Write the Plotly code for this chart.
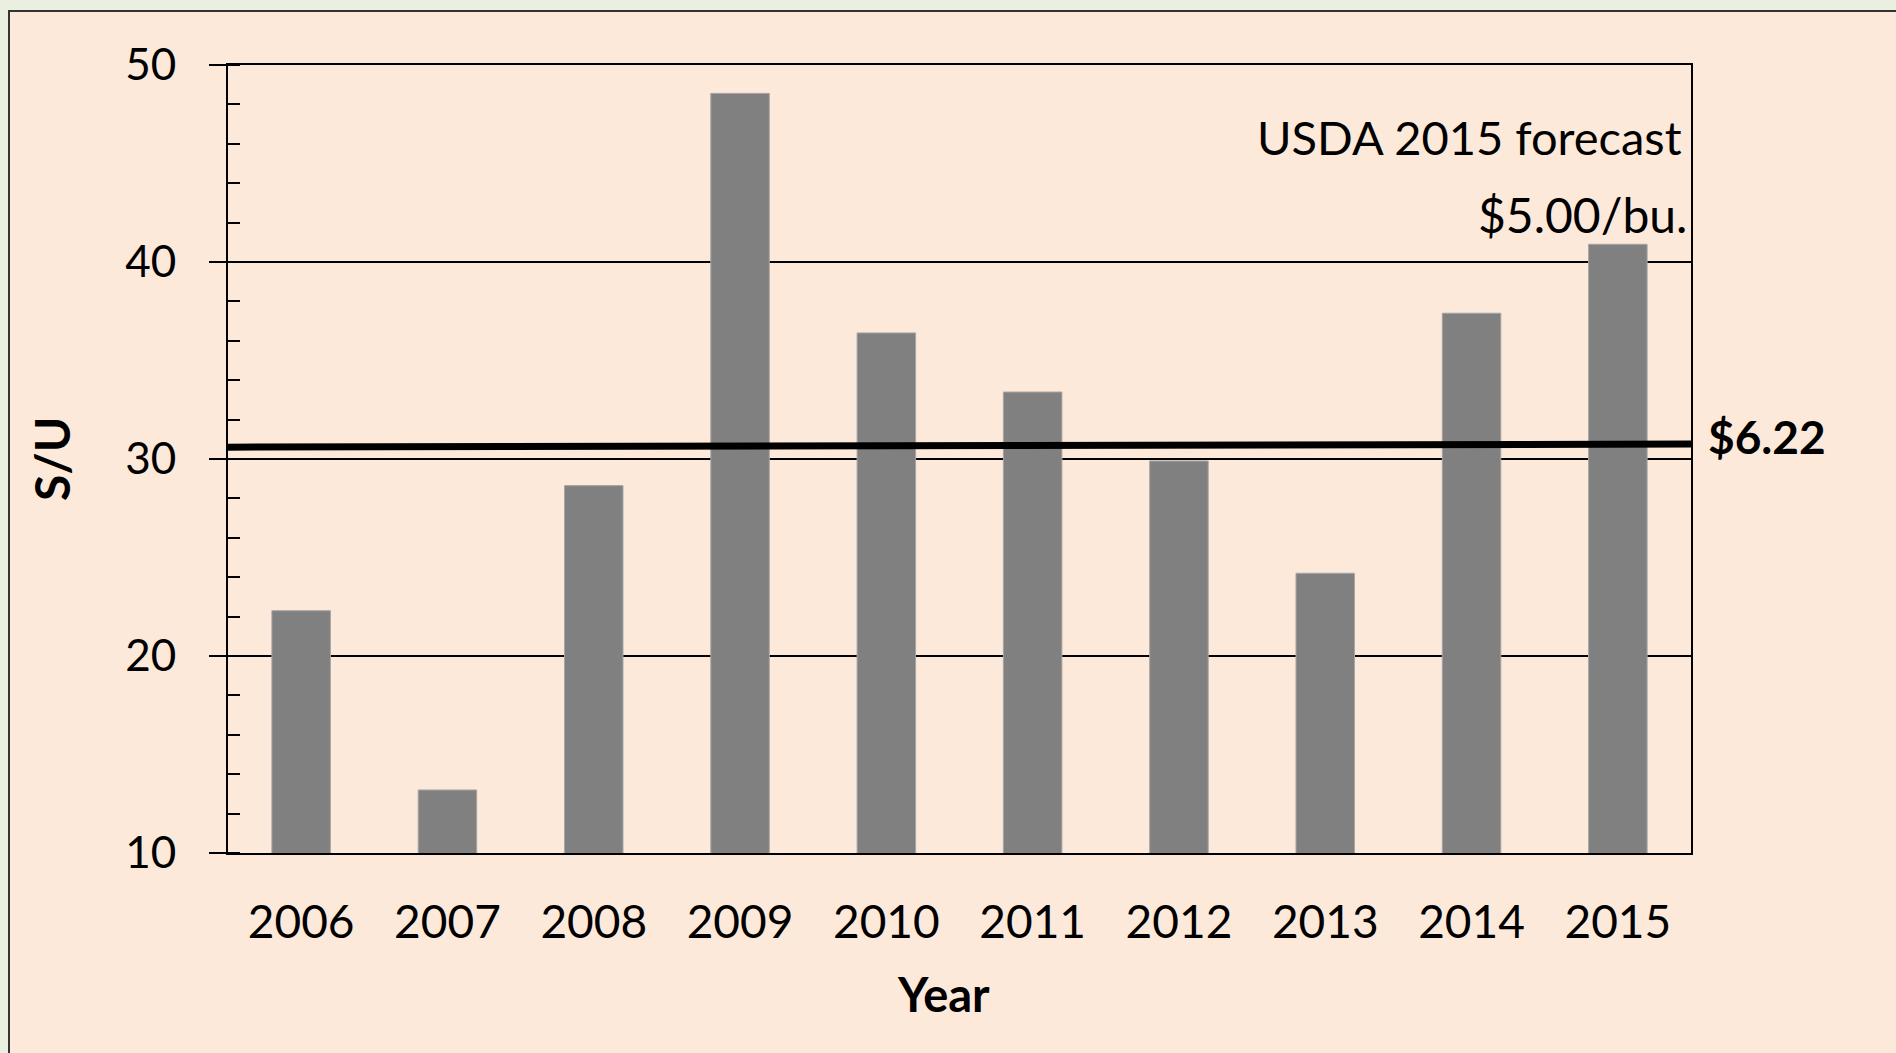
import plotly.graph_objects as go

# Stocks-to-use ratio by marketing year
years = ["2006", "2007", "2008", "2009", "2010", "2011", "2012", "2013", "2014", "2015"]
stocks_to_use = [22.3, 13.2, 28.65, 48.56, 36.4, 33.4, 29.9, 24.2, 37.4, 40.9]

# Reference price line ($6.22) as start/end S/U levels across the plot
price_line_su = [30.6, 30.76]
price_label = "$6.22"
forecast_lines = ["USDA 2015 forecast", "$5.00/bu."]

y_ticks = [10, 20, 30, 40, 50]

FONT = "Lato"
W, H = 1896, 1053
L, R, T, B = 228, 205, 65, 200
PW, PH = W - L - R, H - T - B


def px_x(x):
    return (x - L) / PW


def px_y(y):
    return 1 - (y - T) / PH


fig = go.Figure()
fig.add_trace(go.Bar(
    x=years, y=stocks_to_use,
    marker=dict(color="#808080", line=dict(color="#a6a6a6", width=1)),
    hoverinfo="x+y",
))

# peach panel behind the chart
fig.add_shape(type="rect", xref="paper", yref="paper",
              x0=px_x(9), x1=1.3, y0=-1.0, y1=px_y(11),
              fillcolor="#FDE9DA", line=dict(color="#333333", width=2), layer="below")

# $6.22 price line spanning the plot
fig.add_shape(type="line", xref="x domain", yref="y",
              x0=0, x1=1, y0=price_line_su[0], y1=price_line_su[1],
              line=dict(color="black", width=7))

fig.add_annotation(xref="paper", yref="y", x=1.01, y=price_line_su[1] + 0.4,
                   text="<b>" + price_label + "</b>", showarrow=False,
                   xanchor="left", yanchor="middle",
                   font=dict(family=FONT, size=46, color="black"))

fig.add_annotation(xref="paper", yref="paper", x=px_x(1684), y=px_y(137),
                   text=forecast_lines[0], showarrow=False,
                   xanchor="right", yanchor="middle",
                   font=dict(family=FONT, size=47, color="black"))
fig.add_annotation(xref="paper", yref="paper", x=px_x(1689), y=px_y(214),
                   text=forecast_lines[1], showarrow=False,
                   xanchor="right", yanchor="middle",
                   font=dict(family=FONT, size=48, color="black"))

# axis titles
fig.add_annotation(xref="paper", yref="paper", x=px_x(943), y=px_y(994),
                   text="<b>Year</b>", showarrow=False,
                   xanchor="center", yanchor="middle",
                   font=dict(family=FONT, size=47, color="black"))
fig.add_annotation(xref="paper", yref="paper", x=px_x(51), y=px_y(459),
                   text="<b>S/U</b>", showarrow=False, textangle=-90,
                   xanchor="center", yanchor="middle",
                   font=dict(family=FONT, size=48, color="black"))

fig.update_layout(
    width=W, height=H, autosize=False,
    margin=dict(l=L, r=R, t=T, b=B),
    paper_bgcolor="#EBEFDF",
    plot_bgcolor="white",
    bargap=0.6,
    showlegend=False,
    font=dict(family=FONT, size=44, color="black"),
    xaxis=dict(
        showline=True, linecolor="black", linewidth=2, mirror=True,
        ticks="", showgrid=False,
        ticklabelstandoff=28,
        tickfont=dict(family=FONT, size=46),
    ),
    yaxis=dict(
        range=[10, 50], tickvals=y_ticks,
        showline=True, linecolor="black", linewidth=2, mirror=True,
        ticks="outside", ticklen=17, tickwidth=2, tickcolor="black",
        ticklabelstandoff=24,
        showgrid=True, gridcolor="black", gridwidth=1.5,
        zeroline=False,
        minor=dict(dtick=2, ticks="inside", ticklen=12, tickwidth=2,
                   tickcolor="black", showgrid=False),
        tickfont=dict(family=FONT, size=44),
    ),
)

fig.write_html("out.html")
